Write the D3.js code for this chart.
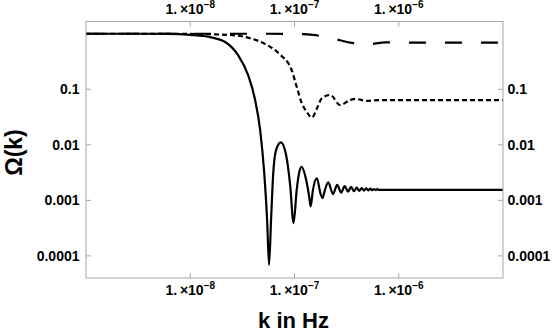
<!DOCTYPE html>
<html>
<head>
<meta charset="utf-8">
<script src="https://cdn.jsdelivr.net/npm/d3@7"></script>
<style>
  body { margin: 0; background: #fff; }
  text { font-family: "Liberation Sans", Arial, sans-serif; font-weight: bold; }
</style>
</head>
<body>
<svg width="554" height="335"></svg>
<script>
// k in Hz, Omega(k)
var solidK = [1e-9, 3e-9, 6e-9, 1e-8, 1.55e-8, 2.16e-8, 2.88e-8, 3.59e-8, 4.19e-8, 4.68e-8, 5.1e-8, 5.46e-8, 5.7e-8,
  5.96e-8, 6.24e-8, 6.66e-8, 7.4e-8, 8.3e-8, 9.08e-8, 9.8e-8, 1.05e-7, 1.11e-7, 1.17e-7, 1.29e-7, 1.38e-7, 1.43e-7,
  1.5e-7, 1.64e-7, 1.78e-7, 1.86e-7, 1.95e-7, 2.11e-7, 2.34e-7, 2.57e-7, 2.8e-7, 3.03e-7, 3.26e-7, 3.49e-7, 3.72e-7,
  3.95e-7, 4.18e-7, 4.41e-7, 4.64e-7, 4.87e-7, 5.1e-7, 5.33e-7, 5.56e-7, 5.79e-7, 6.02e-7, 6.25e-7, 6.5e-7, 7e-7, 1e-6, 1e-5];
var solidOmega = [1.0, 1.0, 0.99, 0.95, 0.87, 0.71, 0.41, 0.18, 0.064, 0.0186, 0.0035, 0.00045, 0.000069,
  0.00045, 0.0029, 0.0081, 0.0111, 0.0066, 0.0019, 0.00039, 0.00155, 0.0032, 0.0040, 0.0024, 0.0012, 0.00078,
  0.0015, 0.0025, 0.0013, 0.0011, 0.0015, 0.0021, 0.0013, 0.0019, 0.00138, 0.0018, 0.00143, 0.00175, 0.00146,
  0.0017, 0.00148, 0.00167, 0.0015, 0.00164, 0.00151, 0.00162, 0.00152, 0.0016, 0.00153, 0.00159, 0.00154, 0.00155, 0.00155, 0.00155];

var shortK = [1e-9, 1e-8, 2.41e-8, 3.75e-8, 5.42e-8, 7.28e-8, 9.4e-8, 1.05e-7, 1.17e-7, 1.3e-7, 1.47e-7, 1.64e-7,
  1.83e-7, 2.2e-7, 2.74e-7, 3.42e-7, 3.82e-7, 4.94e-7, 6.5e-7, 1e-6, 1e-5];
var shortOmega = [1.0, 0.99, 0.95, 0.83, 0.63, 0.42, 0.22, 0.111, 0.057, 0.04, 0.031, 0.045,
  0.069, 0.079, 0.052, 0.064, 0.067, 0.062, 0.064, 0.064, 0.064];

var longK = [1e-9, 5e-8, 1e-7, 1.5e-7, 2.28e-7, 3.42e-7, 4.94e-7, 7.5e-7, 1e-6, 1e-5];
var longOmega = [1.0, 1.0, 0.99, 0.95, 0.83, 0.69, 0.645, 0.70, 0.69, 0.69];

var xTicks = [1e-8, 1e-7, 1e-6];
var xTickExp = ["\u22128", "\u22127", "\u22126"];
var yTicks = [0.1, 0.01, 0.001, 0.0001];
var yTickLabels = ["0.1", "0.01", "0.001", "0.0001"];

var svg = d3.select("svg");
var plotLeft = 86, plotRight = 503, plotTop = 21.5, plotBottom = 278;

var x = d3.scaleLog().domain([1e-9, 1e-5]).range([plotLeft, plotRight]);
var y = d3.scaleLog().domain([4.0e-5, 1.66]).range([plotBottom, plotTop]);

svg.append("clipPath").attr("id", "plot")
  .append("rect").attr("x", plotLeft).attr("y", plotTop)
  .attr("width", plotRight - plotLeft).attr("height", plotBottom - plotTop);

var line = d3.line()
  .x(function (d) { return x(d[0]); })
  .y(function (d) { return y(d[1]); })
  .curve(d3.curveMonotoneX);

function pairs(ks, vs) { return ks.map(function (k, i) { return [k, vs[i]]; }); }

var g = svg.append("g").attr("clip-path", "url(#plot)");
g.append("path").datum(pairs(longK, longOmega))
  .attr("d", line).attr("fill", "none").attr("stroke", "#000")
  .attr("stroke-width", 2.2).attr("stroke-dasharray", "17,19");
g.append("path").datum(pairs(shortK, shortOmega))
  .attr("d", line).attr("fill", "none").attr("stroke", "#000")
  .attr("stroke-width", 2.2).attr("stroke-dasharray", "5,3");
g.append("path").datum(pairs(solidK, solidOmega))
  .attr("d", line).attr("fill", "none").attr("stroke", "#000")
  .attr("stroke-width", 2.2);

// frame
svg.append("rect").attr("x", plotLeft).attr("y", plotTop)
  .attr("width", plotRight - plotLeft).attr("height", plotBottom - plotTop)
  .attr("fill", "none").attr("stroke", "#a6a6a6").attr("stroke-width", 1);

// ticks, all pointing inward
var tickColor = "#a6a6a6";
xTicks.forEach(function (t, i) {
  var px = x(t);
  svg.append("line").attr("x1", px).attr("x2", px).attr("y1", plotBottom).attr("y2", plotBottom - 5)
    .attr("stroke", tickColor);
  svg.append("line").attr("x1", px).attr("x2", px).attr("y1", plotTop).attr("y2", plotTop + 5)
    .attr("stroke", tickColor);
  [295, 13.5].forEach(function (by) {
    var t1 = svg.append("text").attr("x", px).attr("y", by)
      .attr("text-anchor", "middle").attr("font-size", 14);
    t1.append("tspan").text("1.\u2009\u00d710");
    t1.append("tspan").attr("dy", -6).attr("font-size", 10).text(xTickExp[i]);
  });
});

yTicks.forEach(function (t, i) {
  var py = y(t);
  svg.append("line").attr("x1", plotLeft).attr("x2", plotLeft + 5).attr("y1", py).attr("y2", py)
    .attr("stroke", tickColor);
  svg.append("line").attr("x1", plotRight).attr("x2", plotRight - 5).attr("y1", py).attr("y2", py)
    .attr("stroke", tickColor);
  svg.append("text").attr("x", plotLeft - 6.5).attr("y", py + 5)
    .attr("text-anchor", "end").attr("font-size", 14).text(yTickLabels[i]);
  svg.append("text").attr("x", plotRight + 4.5).attr("y", py + 5)
    .attr("text-anchor", "start").attr("font-size", 14).text(yTickLabels[i]);
});

// axis titles
svg.append("text").attr("x", 293.5).attr("y", 328)
  .attr("text-anchor", "middle").attr("font-size", 22).text("k in Hz");
svg.append("text").attr("transform", "translate(22,152.5) rotate(-90)")
  .attr("text-anchor", "middle").attr("font-size", 23).text("\u03a9(k)");
</script>
</body>
</html>
